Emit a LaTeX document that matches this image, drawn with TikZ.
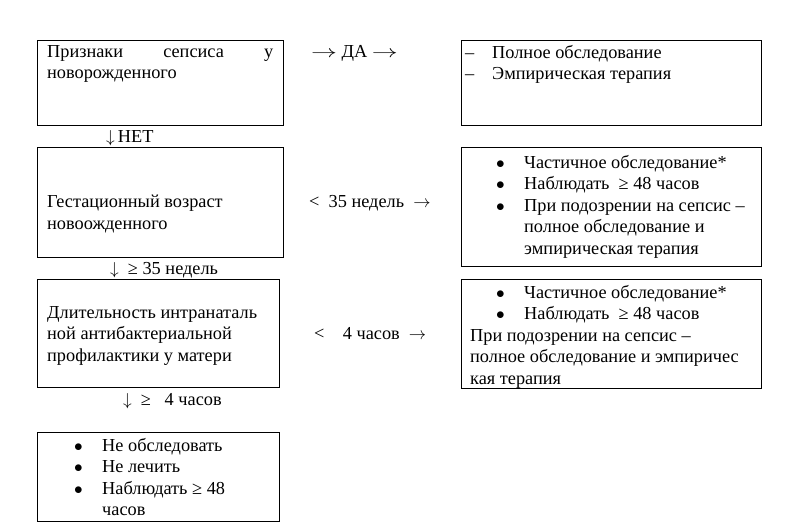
\documentclass[tikz,border=0pt]{standalone}
\usepackage{fontspec}
\usepackage{graphicx}
\setmainfont{Liberation Serif}
\usetikzlibrary{positioning}
\newcommand{\bodyfont}{\fontsize{18.3}{21.5}\selectfont}
\newcommand{\bul}{\makebox[28pt][l]{$\bullet$}}
\newcommand{\dsh}{\makebox[27pt][l]{–}}
\newcommand{\ra}{$\rightarrow$}
\newcommand{\lra}{\scalebox{1.5}[1]{$\rightarrow$}}
\newcommand{\da}{$\downarrow$}

\begin{document}
\begin{tikzpicture}[x=1pt,y=-1pt,
  frame/.style={draw, line width=0.9pt, anchor=north west, inner sep=0pt},
  txt/.style={inner sep=0pt, anchor=north west, align=left, font=\bodyfont},
  lbl/.style={inner sep=0pt, anchor=west, font=\bodyfont}]
  \useasboundingbox (0,0) rectangle (790,528);
  % left column
  \node[frame, minimum width=246pt, minimum height=85pt] (signs) at (37,40) {};
  \node[frame, minimum width=246pt, minimum height=110pt] (age) at (37,147) {};
  \node[frame, minimum width=242pt, minimum height=108pt] (iap) at (37,279) {};
  \node[frame, minimum width=242pt, minimum height=89pt] (none) at (37,432) {};
  % right column
  \node[frame, minimum width=300pt, minimum height=85pt] (full) at (461,40) {};
  \node[frame, minimum width=300pt, minimum height=119pt] (early) at (461,147) {};
  \node[frame, minimum width=300pt, minimum height=109pt] (short) at (461,279) {};

  % box texts
  \node[txt] (signs-text) at ([shift={(10,5)}]signs.north west)
    {\makebox[226pt][s]{Признаки сепсиса у}\\новорожденного};
  \node[txt] (age-text) at ([shift={(10,48)}]age.north west)
    {Гестационный возраст\\новоожденного};
  \node[txt] (iap-text) at ([shift={(10,27)}]iap.north west)
    {Длительность интранаталь\\ной антибактериальной\\профилактики у матери};
  \node[txt] (none-text) at ([shift={(37,6)}]none.north west)
    {\bul Не обследовать\\\bul Не лечить\\\bul Наблюдать ≥ 48\\\hspace*{28pt}часов};
  \node[txt] (full-text) at ([shift={(4,5)}]full.north west)
    {\dsh Полное обследование\\\dsh Эмпирическая терапия};
  \node[txt] (early-text) at ([shift={(35,8)}]early.north west)
    {\bul Частичное обследование*\\\bul Наблюдать~ ≥ 48 часов\\\bul При подозрении на сепсис –\\
     \hspace*{28pt}полное обследование и\\\hspace*{28pt}эмпирическая терапия};
  \node[txt] (short-text) at ([shift={(9,6)}]short.north west)
    {\hspace*{26pt}\bul Частичное обследование*\\\hspace*{26pt}\bul Наблюдать~ ≥ 48 часов\\
     При подозрении на сепсис –\\полное обследование и эмпиричес\\кая терапия};

  % branch labels
  \node[lbl] (yes-label) at (311,53) {\lra{} ДА \lra};
  \node[lbl] (no-label) at (106,138) {\da\,НЕТ};
  \node[lbl] (preterm-label) at (309,203) {<~~35 недель~~\ra};
  \node[lbl] (term-label) at (110,270) {\da~~≥ 35 недель};
  \node[lbl] (lt4-label) at (314,334) {<~~~~4 часов~~\ra};
  \node[lbl] (ge4-label) at (123,401) {\da~~≥~~~4 часов};
\end{tikzpicture}
\end{document}
